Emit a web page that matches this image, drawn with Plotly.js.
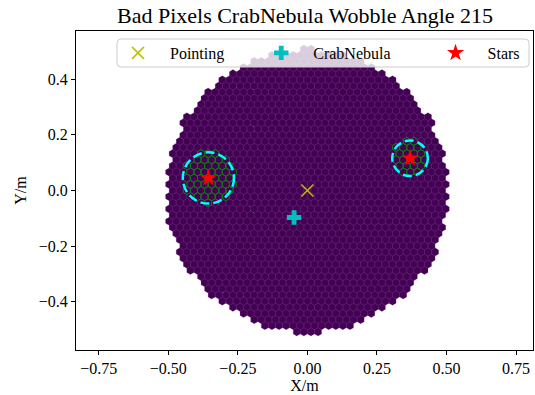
<!DOCTYPE html>
<html><head><meta charset="utf-8">
<script src="https://cdn.plot.ly/plotly-3.0.1.min.js"></script>
<style>html,body{margin:0;padding:0;background:#fff}#chart{width:535px;height:395px}</style>
</head><body><div id="chart"></div>
<script>
// ---------------- data ----------------
const cameraCenter = [0.0, 0.0];      // m
const pixelPitch = [0.0255];          // m, centre-to-centre
const nPixels = [1440];
const pointingX = [0.0];
const pointingY = [0.0];
const sourceX = [-0.048];
const sourceY = [-0.097];
const starX = [-0.356, 0.369];
const starY = [0.045, 0.116];
const starRadius = [0.092, 0.064];
const xTicks = [-0.75, -0.5, -0.25, 0, 0.25, 0.5, 0.75];
const yTicks = [-0.4, -0.2, 0, 0.2, 0.4];
const titleText = 'Bad Pixels CrabNebula Wobble Angle 215';

// ---------------- camera geometry ----------------
const p = pixelPitch[0], rowH = p * Math.sqrt(3) / 2, R = p / Math.sqrt(3);
let cells = [];
for (let j = -30; j <= 30; j++) {
  for (let i = -30; i <= 30; i++) {
    const x = (i + ((j & 1) ? 0.5 : 0)) * p + cameraCenter[0];
    const y = j * rowH + cameraCenter[1];
    cells.push([x, y, Math.hypot(x - cameraCenter[0], y - cameraCenter[1])]);
  }
}
cells.sort((a, b) => a[2] - b[2]);
cells = cells.slice(0, nPixels[0]);

const hx = [], hy = [], bx = [], by = [];
function hexInto(ax, ay, cx, cy) {
  for (let k = 0; k <= 6; k++) {
    const a = (30 + 60 * k) * Math.PI / 180;
    ax.push(cx + R * Math.cos(a)); ay.push(cy + R * Math.sin(a));
  }
  ax.push(null); ay.push(null);
}
cells.forEach(c => {
  hexInto(hx, hy, c[0], c[1]);
  let bad = false;
  for (let s = 0; s < starX.length; s++) {
    if (Math.hypot(c[0] - starX[s], c[1] - starY[s]) < starRadius[s]) bad = true;
  }
  if (bad) hexInto(bx, by, c[0], c[1]);
});

// ---------------- layout helpers ----------------
const W = 535, H = 395, mL = 76, mR = 2, mT = 31, mB = 45;
const pw = W - mL - mR, ph = H - mT - mB;
const px2x = v => (v - mL) / pw, py2y = v => (H - mB - v) / ph;
function roundRect(x0, y0, x1, y1, r) {
  const X0 = px2x(x0), X1 = px2x(x1), Y0 = py2y(y0), Y1 = py2y(y1);
  const rx = r / pw, ry = r / ph;
  return `M${X0 + rx},${Y0} L${X1 - rx},${Y0} Q${X1},${Y0} ${X1},${Y0 - ry} L${X1},${Y1 + ry} Q${X1},${Y1} ${X1 - rx},${Y1} L${X0 + rx},${Y1} Q${X0},${Y1} ${X0},${Y1 + ry} L${X0},${Y0 - ry} Q${X0},${Y0} ${X0 + rx},${Y0} Z`;
}

const serif = 'Liberation Serif, DejaVu Serif, serif';
const nb = n => '\u00a0'.repeat(n);

const traces = [
  { type: 'scatter', mode: 'lines', x: hx, y: hy, fill: 'toself', fillcolor: '#440154',
    line: { color: 'rgba(120,70,145,0.4)', width: 0.6 }, hoverinfo: 'skip', showlegend: false },
  { type: 'scatter', mode: 'lines', x: bx, y: by,
    line: { color: '#0c7a0c', width: 1 }, hoverinfo: 'skip', showlegend: false },
  { type: 'scatter', mode: 'markers', x: pointingX, y: pointingY, name: nb(3) + 'Pointing' + nb(8),
    marker: { symbol: 'x-thin-open', size: 12, color: '#bfbf00', line: { color: '#bfbf00', width: 1.5 } } },
  { type: 'scatter', mode: 'markers', x: sourceX, y: sourceY, name: nb(3) + 'CrabNebula' + nb(10),
    marker: { symbol: 'cross', size: 12, color: '#00bfbf', line: { width: 0 } } },
  { type: 'scatter', mode: 'markers', x: starX, y: starY, name: nb(3) + 'Stars',
    marker: { symbol: 'star', size: 13, color: '#ff0000', line: { width: 0 } } }
];

const shapes = starX.map((sx, i) => ({
  type: 'circle', xref: 'x', yref: 'y', layer: 'above',
  x0: sx - starRadius[i], x1: sx + starRadius[i], y0: starY[i] - starRadius[i], y1: starY[i] + starRadius[i],
  line: { color: '#00ffff', width: 2.5, dash: '9px,4px' }
}));
shapes.push({ type: 'path', xref: 'paper', yref: 'paper', layer: 'above',
  path: roundRect(117, 39, 529, 67, 4), fillcolor: 'rgba(255,255,255,0.8)',
  line: { color: '#cccccc', width: 1 } });

const axisCommon = {
  showgrid: false, zeroline: false, showline: true, mirror: true, linecolor: '#000', linewidth: 1,
  ticks: 'outside', ticklen: 4, tickwidth: 1, tickcolor: '#000',
  tickfont: { family: serif, size: 16, color: '#000' }, fixedrange: true
};

const layout = {
  width: W, height: H, margin: { l: mL, r: mR, t: mT, b: mB },
  paper_bgcolor: '#fff', plot_bgcolor: '#fff',
  title: { text: titleText, font: { family: serif, size: 22, color: '#000' },
    x: px2x(305), xref: 'paper', xanchor: 'center', y: 1 - 15 / H, yref: 'container', yanchor: 'middle' },
  xaxis: Object.assign({}, axisCommon, { range: [-0.832, 0.811], tickvals: xTicks, tickformat: '.2f',
    title: { text: 'X/m', font: { family: serif, size: 16, color: '#000' }, standoff: 0 } }),
  yaxis: Object.assign({}, axisCommon, { range: [-0.573, 0.573], tickvals: yTicks, tickformat: '.1f',
    title: { text: 'Y/m', font: { family: serif, size: 16, color: '#000' }, standoff: 8 } }),
  showlegend: true,
  legend: { orientation: 'h', x: px2x(118), xanchor: 'left', y: py2y(53), yanchor: 'middle',
    bgcolor: 'rgba(0,0,0,0)', borderwidth: 0, font: { family: serif, size: 16, color: '#000' } },
  shapes: shapes
};

Plotly.newPlot('chart', traces, layout, { displayModeBar: false, staticPlot: true });
</script>
</body></html>
